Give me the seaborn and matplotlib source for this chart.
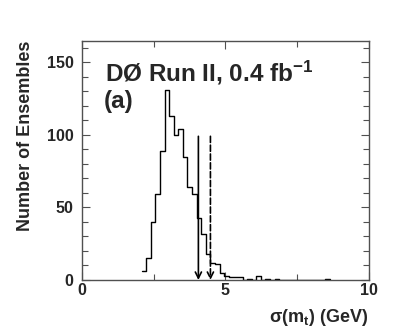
import numpy as np
import pandas as pd
import seaborn as sns
import matplotlib.pyplot as plt

# histogram of sigma(m_t), bin width 0.16 GeV starting at 2.08 GeV
bin_width = 0.16
first_edge = 2.08
counts = [6, 15, 40, 59, 89, 131, 113, 100, 104, 85, 64, 59, 43, 32, 18,
          12, 11, 5, 3, 2, 2, 2, 0, 1, 0, 3, 0, 1, 0, 1,
          0, 0, 0, 0, 0, 0, 0, 0, 0, 0, 1]

# arrows: measured value (solid) and expected (dashed)
arrow_values = [4.06, 4.48]
arrow_styles = ['-', '--']
arrow_top = 99

title_text = r'DØ Run II, 0.4 fb$^{\mathbf{-1}}$'
panel_label = '(a)'

sns.set_style('ticks')
plt.rcParams['font.family'] = ['Liberation Sans', 'DejaVu Sans']
plt.rcParams['font.weight'] = 'bold'
plt.rcParams['mathtext.fontset'] = 'custom'
plt.rcParams['mathtext.rm'] = 'Liberation Sans:bold'
plt.rcParams['mathtext.bf'] = 'Liberation Sans:bold'
plt.rcParams['mathtext.it'] = 'Liberation Sans:bold'
plt.rcParams['mathtext.sf'] = 'Liberation Sans:bold'

edges = first_edge + bin_width * np.arange(len(counts) + 1)
df = pd.DataFrame({'sigma': edges[:-1] + bin_width / 2, 'n': counts})

fig = plt.figure(figsize=(4.11, 3.34), dpi=100)
ax = fig.add_axes([0.1995, 0.1617, 0.6975, 0.717])

sns.histplot(data=df, x='sigma', weights='n', bins=list(edges),
             element='step', fill=False, color='black', linewidth=1.0, ax=ax)

for val, ls in zip(arrow_values, arrow_styles):
    ax.annotate('', xy=(val, 0), xytext=(val, arrow_top),
                arrowprops=dict(arrowstyle='->', color='black', lw=1.2,
                                linestyle=ls, mutation_scale=11,
                                shrinkA=0, shrinkB=0))

ax.set_xlim(0, 10)
ax.set_ylim(0, 165)
ax.set_xticks([0, 5, 10])
ax.set_xticks([2.5, 7.5], minor=True)
ax.set_yticks([0, 50, 100, 150])
ax.set_yticks(np.arange(0, 165, 10), minor=True)

for s in ax.spines.values():
    s.set_visible(True)
    s.set_color('#505050')
    s.set_linewidth(1.0)

ax.tick_params(which='both', direction='in', top=True, right=True,
               color='#505050', width=0.8, labelsize=11.5)
ax.tick_params(which='major', length=6)
ax.tick_params(which='minor', length=4)
ax.tick_params(axis='y', pad=6)
ax.tick_params(axis='x', pad=2)

ax.set_xlabel(r'$\sigma$(m$_{\mathbf{t}}$) (GeV)', fontsize=13,
              fontweight='bold', loc='right', labelpad=7)
ax.set_ylabel('Number of Ensembles', fontsize=13, fontweight='bold',
              loc='top', labelpad=9)

ax.text(0.08, 0.925, title_text, transform=ax.transAxes, fontsize=17.5,
        fontweight='bold', va='top', ha='left')
ax.text(0.075, 0.795, panel_label, transform=ax.transAxes, fontsize=17.5,
        fontweight='bold', va='top', ha='left')

fig.savefig('out.png', dpi=100)
